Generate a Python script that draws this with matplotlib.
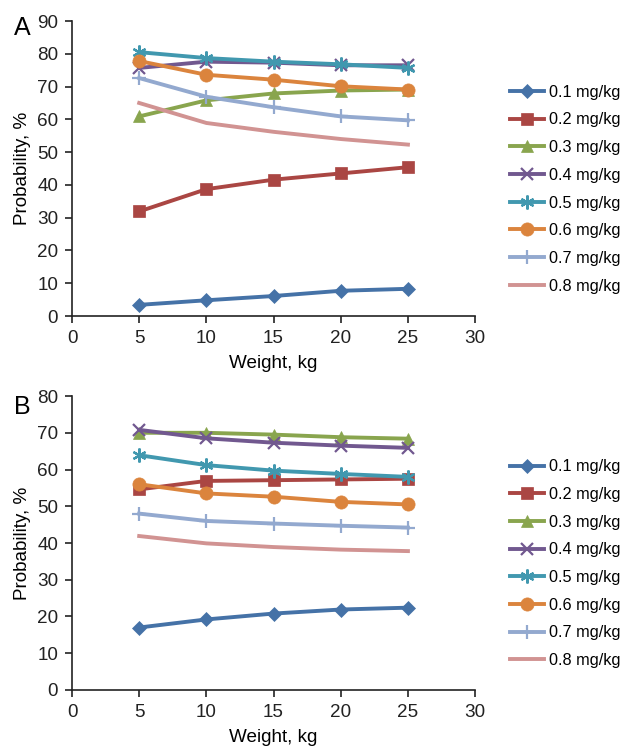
import matplotlib.pyplot as plt

plt.rcParams["font.family"] = ["Liberation Sans", "DejaVu Sans"]

weight = [5, 10, 15, 20, 25]
doses = ["0.1 mg/kg", "0.2 mg/kg", "0.3 mg/kg", "0.4 mg/kg",
         "0.5 mg/kg", "0.6 mg/kg", "0.7 mg/kg", "0.8 mg/kg"]

# panel A
a_01 = [3.4, 4.8, 6.1, 7.7, 8.3]
a_02 = [31.9, 38.7, 41.6, 43.5, 45.4]
a_03 = [60.9, 65.8, 67.9, 68.8, 69.1]
a_04 = [75.7, 77.6, 77.3, 76.5, 76.5]
a_05 = [80.5, 78.7, 77.6, 76.8, 75.7]
a_06 = [77.8, 73.6, 72.1, 70.1, 69.1]
a_07 = [72.6, 66.9, 63.7, 60.9, 59.7]
a_08 = [65.0, 58.9, 56.2, 54.0, 52.3]

# panel B
b_01 = [17.0, 19.2, 20.8, 21.9, 22.4]
b_02 = [54.6, 56.9, 57.1, 57.3, 57.5]
b_03 = [70.0, 70.0, 69.5, 68.8, 68.4]
b_04 = [70.8, 68.5, 67.3, 66.5, 65.9]
b_05 = [63.9, 61.2, 59.7, 58.8, 58.0]
b_06 = [56.0, 53.5, 52.6, 51.2, 50.5]
b_07 = [48.0, 46.0, 45.3, 44.7, 44.2]
b_08 = [41.9, 39.9, 38.9, 38.2, 37.8]

colors = ["#4572A7", "#AA4643", "#89A54E", "#71588F",
          "#4198AF", "#DB843D", "#93A9CF", "#D19392"]
markers = ["D", "s", "^", "x", (6, 2, 0), "o", "+", None]
msizes = [7.5, 9, 9, 9, 10, 9.5, 10, 0]

fig = plt.figure(figsize=(6.25, 7.46), dpi=100)
axA = fig.add_axes([0.1152, 0.5764, 0.645, 0.3954])
axB = fig.add_axes([0.1152, 0.0751, 0.645, 0.394])

fs = 13.6   # axis text
lfs = 11.7  # legend text


def draw(ax, series, ymax):
    for s, lab, c, m, ms in zip(series, doses, colors, markers, msizes):
        ax.plot(weight, s, color=c, marker=m, markersize=ms, lw=2.8,
                markeredgewidth=1.6 if m in ("x", "+", (6, 2, 0)) else 0.5,
                markeredgecolor=c, label=lab)
    ax.set_xlim(0, 30)
    ax.set_ylim(0, ymax)
    ax.set_xticks(range(0, 31, 5))
    ax.set_yticks(range(0, ymax + 1, 10))
    for sp in ["top", "right"]:
        ax.spines[sp].set_visible(False)
    for sp in ["left", "bottom"]:
        ax.spines[sp].set_color("#222222")
        ax.spines[sp].set_linewidth(1.2)
    ax.tick_params(direction="out", length=5, width=1.2, labelsize=fs,
                   colors="#222222", pad=5)
    ax.set_xlabel("Weight, kg", fontsize=fs, labelpad=6)
    ax.set_ylabel("Probability, %", fontsize=fs, labelpad=4)
    ax.legend(loc="center left", bbox_to_anchor=(1.05, 0.43), frameon=False,
              fontsize=lfs, labelspacing=0.78, handlelength=2.1,
              handletextpad=0.3)


draw(axA, [a_01, a_02, a_03, a_04, a_05, a_06, a_07, a_08], 90)
draw(axB, [b_01, b_02, b_03, b_04, b_05, b_06, b_07, b_08], 80)

fig.text(0.022, 0.962, "A", fontsize=18, va="center")
fig.text(0.022, 0.455, "B", fontsize=18, va="center")

fig.savefig("out.png", dpi=100)
